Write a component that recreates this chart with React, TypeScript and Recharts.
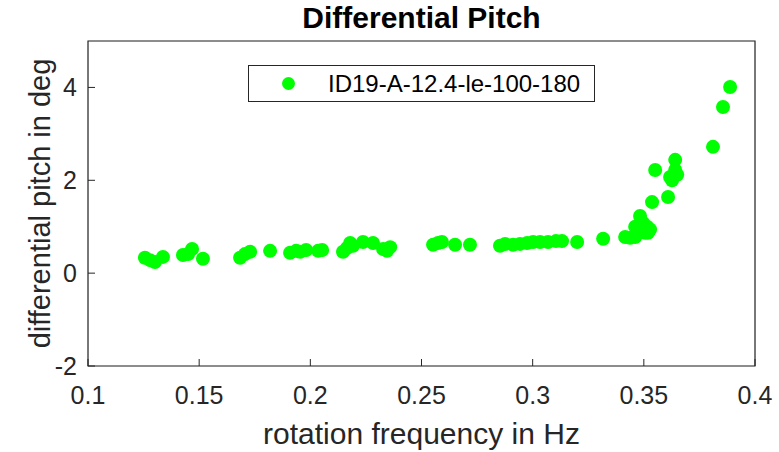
import React from 'react';
import {
  ScatterChart,
  Scatter,
  XAxis,
  YAxis,
  CartesianGrid,
  ReferenceArea,
} from 'recharts';

// rotation frequency (Hz) and differential pitch (deg)
const rotationFreq = [
  0.1256, 0.1279, 0.1301, 0.1337, 0.1427, 0.145, 0.1468, 0.1517,
  0.1684, 0.1706, 0.1729, 0.1819, 0.1909, 0.1936, 0.1954, 0.1981, 0.2035, 0.2053,
  0.2147, 0.2165, 0.2179, 0.2192, 0.2237, 0.2282, 0.2327, 0.2345, 0.2359,
  0.2552, 0.2574, 0.2592, 0.2651, 0.2718,
  0.2853, 0.2876, 0.2912, 0.2943, 0.2975, 0.3002, 0.3033, 0.3069, 0.3105, 0.3132, 0.32,
  0.3317, 0.3416, 0.3438, 0.3461, 0.347, 0.3483, 0.3497, 0.3515, 0.3519, 0.3506, 0.3461, 0.3528,
  0.3537, 0.3551, 0.3609, 0.3618, 0.3627, 0.3641, 0.3641, 0.365, 0.3811, 0.3856, 0.3888,
];
const diffPitch = [
  0.33, 0.28, 0.24, 0.35, 0.39, 0.41, 0.52, 0.31,
  0.33, 0.41, 0.46, 0.48, 0.44, 0.48, 0.46, 0.5, 0.48, 0.5,
  0.46, 0.54, 0.65, 0.59, 0.67, 0.65, 0.52, 0.48, 0.56,
  0.61, 0.65, 0.67, 0.61, 0.61,
  0.59, 0.63, 0.61, 0.63, 0.65, 0.67, 0.67, 0.67, 0.69, 0.69, 0.67,
  0.74, 0.78, 0.76, 0.78, 0.87, 1.23, 1.08, 1.0, 0.87, 0.87, 1.0, 0.94,
  1.53, 2.22, 1.64, 2.07, 2.0, 2.44, 2.22, 2.12, 2.72, 3.58, 4.01,
];
const xTicks = [0.1, 0.15, 0.2, 0.25, 0.3, 0.35, 0.4];
const yTicks = [-2, 0, 2, 4];

const seriesName = 'ID19-A-12.4-le-100-180';
const data = rotationFreq.map((f, i) => ({ f, p: diffPitch[i] }));

const FONT = '"Liberation Sans", Arial, Helvetica, sans-serif';
const INK = '#262626';
const GREEN = '#00ff00';

const noLabel = () => null;
const Dot = (props: any) => <circle cx={props.cx} cy={props.cy} r={7} fill={GREEN} />;

export default function App() {
  return (
    <div style={{ position: 'absolute', left: 0, top: 0, width: 779, height: 452, background: '#fff', fontFamily: FONT }}>
      <ScatterChart width={779} height={452} margin={{ top: 41, right: 24, bottom: 0, left: 0 }}>
        <CartesianGrid stroke="#e8e8e8" />
        <XAxis
          xAxisId="b"
          type="number"
          dataKey="f"
          domain={[0.1, 0.4]}
          ticks={xTicks}
          allowDataOverflow
          height={86}
          axisLine={false}
          tickSize={-7}
          tickMargin={27}
          tickLine={{ stroke: INK }}
          tick={{ fill: INK, fontSize: 25, fontFamily: FONT }}
          label={{ value: 'rotation frequency in Hz', position: 'insideBottom', offset: 8, fill: INK, fontSize: 30, fontFamily: FONT }}
        />
        <XAxis
          xAxisId="t"
          orientation="top"
          type="number"
          domain={[0.1, 0.4]}
          ticks={xTicks}
          allowDataOverflow
          height={0}
          axisLine={false}
          tickSize={-7}
          tickLine={{ stroke: INK }}
          tick={noLabel}
        />
        <YAxis
          yAxisId="l"
          type="number"
          dataKey="p"
          domain={[-2, 5]}
          ticks={yTicks}
          allowDataOverflow
          width={88}
          axisLine={false}
          tickSize={-7}
          tickMargin={18}
          tickLine={{ stroke: INK }}
          tick={{ fill: INK, fontSize: 25, fontFamily: FONT }}
          label={{ value: 'differential pitch in deg', angle: -90, position: 'insideLeft', offset: 40, fill: INK, fontSize: 29, fontFamily: FONT, style: { textAnchor: 'middle' } }}
        />
        <YAxis
          yAxisId="r"
          orientation="right"
          type="number"
          domain={[-2, 5]}
          ticks={yTicks}
          allowDataOverflow
          width={0}
          axisLine={false}
          tickSize={-7}
          tickLine={{ stroke: INK }}
          tick={noLabel}
        />
        <Scatter
          xAxisId="b"
          yAxisId="l"
          name={seriesName}
          data={data}
          fill={GREEN}
          shape={Dot}
          isAnimationActive={false}
        />
        <ReferenceArea
          xAxisId="b"
          yAxisId="l"
          x1={0.1}
          x2={0.4}
          y1={-2}
          y2={5}
          fill="none"
          fillOpacity={0}
          stroke={INK}
          strokeWidth={1.2}
        />
      </ScatterChart>

      <div
        style={{
          position: 'absolute',
          left: 88,
          top: 3,
          width: 667,
          textAlign: 'center',
          fontSize: 30,
          lineHeight: '30px',
          fontWeight: 'bold',
          color: '#000',
        }}
      >
        Differential Pitch
      </div>

      <div
        style={{
          position: 'absolute',
          left: 248,
          top: 65,
          width: 347,
          height: 37,
          boxSizing: 'border-box',
          border: `1px solid ${INK}`,
          background: '#fff',
          display: 'flex',
          alignItems: 'center',
        }}
      >
        <span
          style={{
            display: 'inline-block',
            width: 13,
            height: 13,
            borderRadius: '50%',
            background: GREEN,
            marginLeft: 33,
          }}
        />
        <span style={{ marginLeft: 33, fontSize: 24, color: '#000', whiteSpace: 'nowrap' }}>{seriesName}</span>
      </div>
    </div>
  );
}
